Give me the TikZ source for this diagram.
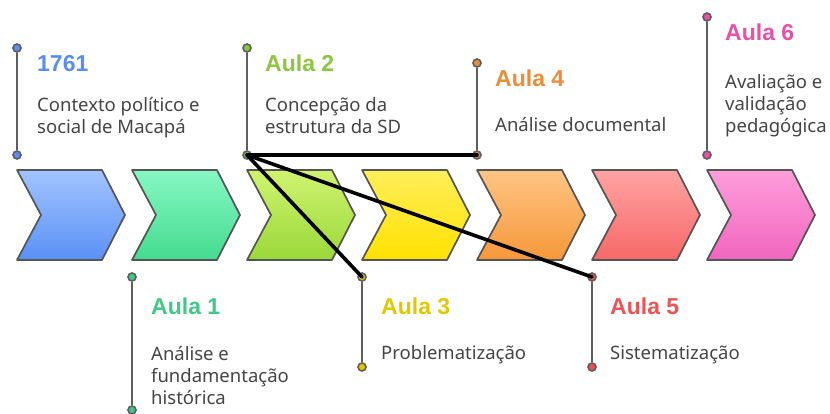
\documentclass[tikz,border=0pt]{standalone}
\usepackage{fontspec}
\setmainfont{Noto Sans}
\newfontfamily\ttlfont{Liberation Sans}
\definecolor{chevgray}{HTML}{555555}
\definecolor{stemgray}{HTML}{5E5E5E}
\definecolor{bodygray}{HTML}{454545}
\definecolor{cA}{HTML}{5B8DEF}
\definecolor{cB}{HTML}{3FC985}
\definecolor{cC}{HTML}{8CC63E}
\definecolor{cD}{HTML}{E3C800}
\definecolor{cE}{HTML}{EE8C35}
\definecolor{cF}{HTML}{EE5252}
\definecolor{cG}{HTML}{E94FA8}
\definecolor{tA}{HTML}{A2C4FF}\definecolor{bA}{HTML}{5A90F5}
\definecolor{tB}{HTML}{86F7C4}\definecolor{bB}{HTML}{44DB8E}
\definecolor{tC}{HTML}{D0F370}\definecolor{bC}{HTML}{9AD83A}
\definecolor{tD}{HTML}{FFEE5A}\definecolor{bD}{HTML}{FFE200}
\definecolor{tE}{HTML}{FFC484}\definecolor{bE}{HTML}{F5983A}
\definecolor{tF}{HTML}{FFA3A3}\definecolor{bF}{HTML}{F86868}
\definecolor{tG}{HTML}{FF9EDB}\definecolor{bG}{HTML}{F065BE}
\tikzset{
  chev/.style={draw=chevgray, line width=1.7pt, line join=round},
  stem/.style={draw=stemgray, line width=2.2pt},
  dotn/.style={circle, draw=stemgray, line width=1.6pt, minimum size=8pt, inner sep=0pt},
  ttl/.style={anchor=base west, inner sep=0pt, font=\ttlfont\fontsize{23}{27}\selectfont\bfseries},
  body/.style={anchor=base west, inner sep=0pt, align=left, text=bodygray, font=\fontsize{18.5}{22}\selectfont},
  linkline/.style={draw=black, line width=3.6pt, line cap=round}
}
\begin{document}
\begin{tikzpicture}[x=1pt,y=-1pt]
\useasboundingbox (0,0) rectangle (830,414);
% chevrons
\foreach \i/\ct/\cb in {0/tA/bA,1/tB/bB,2/tC/bC,3/tD/bD,4/tE/bE,5/tF/bF,6/tG/bG}{
  \pgfmathsetmacro{\xx}{17+115*\i}
  \path[chev, top color=\ct, bottom color=\cb] (\xx,170) -- ++(85,0) -- ++(23,45) -- ++(-23,45) -- ++(-85,0) -- ++(24,-45) -- cycle;
}
% dots
\node[dotn, fill=cA] (d0t) at (17,48) {};
\node[dotn, fill=cA] (d0b) at (17,155) {};
\node[dotn, fill=cB] (d1t) at (132,277) {};
\node[dotn, fill=cB] (d1b) at (132,410) {};
\node[dotn, fill=cC] (d2t) at (247,48) {};
\node[dotn, fill=cC] (d2b) at (247,155) {};
\node[dotn, fill=cD] (d3t) at (362,277) {};
\node[dotn, fill=cD] (d3b) at (362,367) {};
\node[dotn, fill=cE] (d4t) at (477,63) {};
\node[dotn, fill=cE] (d4b) at (477,155) {};
\node[dotn, fill=cF] (d5t) at (592,277) {};
\node[dotn, fill=cF] (d5b) at (592,367) {};
\node[dotn, fill=cG] (d6t) at (707,17) {};
\node[dotn, fill=cG] (d6b) at (707,155) {};
% stems
\foreach \k in {0,1,2,3,4,5,6}{\draw[stem] (d\k t.south) -- (d\k b.north);}
% links
\draw[linkline] (d2b.center) -- (d4b.center);
\draw[linkline] (d2b.center) -- (d3t.center);
\draw[linkline] (d2b.center) -- (d5t.center);
% texts (multi-line body nodes: base = last line)
\node[ttl, text=cA] (t0) at (37,72) {1761};
\node[body] (b0) at (37,134) {Contexto político e\\social de Macapá};
\node[ttl, text=cB] (t1) at (151,314) {Aula 1};
\node[body] (b1) at (151,404) {Análise e\\fundamentação\\histórica};
\node[ttl, text=cC] (t2) at (265,72) {Aula 2};
\node[body] (b2) at (265,134) {Concepção da\\estrutura da SD};
\node[ttl, text=cD] (t3) at (381,314) {Aula 3};
\node[body] (b3) at (381,359) {Problematização};
\node[ttl, text=cE] (t4) at (495,87) {Aula 4};
\node[body] (b4) at (495,132) {Análise documental};
\node[ttl, text=cF] (t5) at (610,314) {Aula 5};
\node[body] (b5) at (610,359) {Sistematização};
\node[ttl, text=cG] (t6) at (725,41) {Aula 6};
\node[body] (b6) at (725,133) {Avaliação e\\validação\\pedagógica};
\end{tikzpicture}
\end{document}
